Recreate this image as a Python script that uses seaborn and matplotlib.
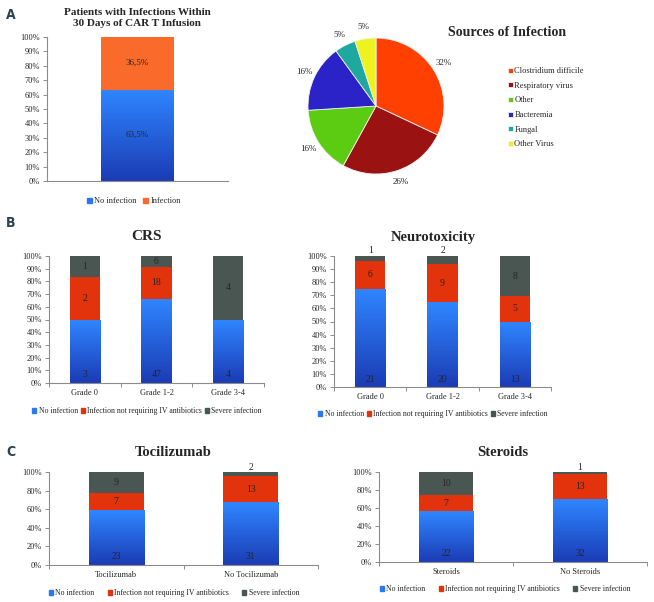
import numpy as np
import matplotlib
matplotlib.use("Agg")
import matplotlib.pyplot as plt
from matplotlib.patches import Patch
from matplotlib.colors import LinearSegmentedColormap
import seaborn as sns

sns.set_style("ticks")
plt.rcParams['font.family'] = ['Liberation Serif', 'DejaVu Serif']

# ---------------- data ----------------
a_category = ["All patients"]
a_no_infection = [63.5]
a_infection = [36.5]

pie_sources = ["Clostridium difficile", "Respiratory virus", "Other", "Bacteremia", "Fungal", "Other Virus"]
pie_values = [32, 26, 16, 16, 5, 5]

crs_groups = ["Grade 0", "Grade 1-2", "Grade 3-4"]
crs_none = [3, 47, 4]
crs_mild = [2, 18, 0]
crs_severe = [1, 6, 4]

neuro_groups = ["Grade 0", "Grade 1-2", "Grade 3-4"]
neuro_none = [21, 20, 13]
neuro_mild = [6, 9, 5]
neuro_severe = [1, 2, 8]

toci_groups = ["Tocilizumab", "No Tocilizumab"]
toci_none = [23, 31]
toci_mild = [7, 13]
toci_severe = [9, 2]

ster_groups = ["Steroids", "No Steroids"]
ster_none = [22, 32]
ster_mild = [7, 13]
ster_severe = [10, 1]

legend_labels = ["No infection", "Infection not requiring IV antibiotics", "Severe infection"]

# ---------------- style ----------------
BLUE = "#2a78f0"
BLUE_CMAP = LinearSegmentedColormap.from_list("bl", ["#1b3cb5", "#2f86ff"])
RED = "#e3330c"
ORANGE = "#fa6a2a"
GRAY = "#4a5652"
SPINE = "#8c8c8c"
pie_colors = ["#ff4000", "#9a1212", "#5ccc12", "#2b22c8", "#1fa8a0", "#eef21e"]

W, H = 654, 602
fig = plt.figure(figsize=(W / 100, H / 100), dpi=100)


def ax_px(l, t, r, b):
    return fig.add_axes([l / W, 1 - b / H, (r - l) / W, (b - t) / H])


def style_axes(ax, n, step):
    for s in ["top", "right"]:
        ax.spines[s].set_visible(False)
    for s in ["left", "bottom"]:
        ax.spines[s].set_color(SPINE)
        ax.spines[s].set_linewidth(0.8)
    ax.set_xlim(-0.5, n - 0.5)
    ax.set_ylim(0, 100)
    ticks = np.arange(0, 101, step)
    ax.set_yticks(ticks)
    ax.set_yticklabels([f"{t}%" for t in ticks], fontsize=6)
    ax.tick_params(axis="y", length=3, width=0.7, color=SPINE, pad=2)
    ax.tick_params(axis="x", length=0, pad=4, labelsize=6)
    ax.set_xticks(np.arange(n), minor=False)
    ax.set_xticks(np.arange(-0.5, n, 1.0), minor=True)
    ax.tick_params(axis="x", which="minor", length=3, width=0.7, color=SPINE)
    ax.set_xlabel("")
    ax.set_ylabel("")


def gradient_fill(ax, patches):
    grad = np.linspace(0, 1, 64).reshape(-1, 1)
    for p in patches:
        bb = p.get_bbox()
        if bb.height <= 0:
            continue
        im = ax.imshow(grad, extent=[bb.x0, bb.x1, bb.y0, bb.y1], origin="lower",
                       aspect="auto", cmap=BLUE_CMAP, zorder=p.get_zorder() + 0.1)
        im.set_clip_path(p)


def stacked(ax, groups, none, mild, severe, width, step, blue_label_y):
    none = np.array(none, float)
    mild = np.array(mild, float)
    severe = np.array(severe, float)
    tot = none + mild + severe
    p_none = none / tot * 100
    p_mild = mild / tot * 100
    p_sev = severe / tot * 100
    sns.barplot(x=groups, y=p_none + p_mild + p_sev, color=GRAY, width=width,
                saturation=1, linewidth=0, ax=ax)
    sns.barplot(x=groups, y=p_none + p_mild, color=RED, width=width,
                saturation=1, linewidth=0, ax=ax)
    n0 = len(ax.patches)
    sns.barplot(x=groups, y=p_none, color=BLUE, width=width,
                saturation=1, linewidth=0, ax=ax)
    gradient_fill(ax, ax.patches[n0:])
    n = len(groups)
    style_axes(ax, n, step)
    for i in range(n):
        ax.text(i, blue_label_y, f"{int(none[i])}", ha="center", va="center", fontsize=7, zorder=10)
        if mild[i] > 0:
            ax.text(i, p_none[i] + p_mild[i] / 2, f"{int(mild[i])}", ha="center", va="center",
                    fontsize=7, zorder=10)
        if severe[i] > 0:
            if p_sev[i] < 7:
                ax.text(i, 100.5, f"{int(severe[i])}", ha="center", va="bottom", fontsize=7, zorder=10)
            else:
                ax.text(i, p_none[i] + p_mild[i] + p_sev[i] / 2, f"{int(severe[i])}",
                        ha="center", va="center", fontsize=7, zorder=10)


def legend3(x, y, colspacing):
    handles = [Patch(color=BLUE), Patch(color=RED), Patch(color=GRAY)]
    fig.legend(handles, legend_labels, loc="center", bbox_to_anchor=(x / W, 1 - y / H),
               ncol=3, frameon=False, fontsize=5.6, handlelength=0.55, handleheight=0.55,
               handletextpad=0.3, columnspacing=colspacing, borderpad=0)


def panel_letter(x, y, s):
    fig.text(x / W, 1 - y / H, s, fontsize=10, fontweight="bold", color="#2c4150",
             family=["DejaVu Sans"], stretch="condensed", ha="left", va="center")


# ---------------- Panel A: bar ----------------
axA = ax_px(47, 37, 228, 181)
sns.barplot(x=a_category, y=np.array(a_no_infection) + np.array(a_infection), color=ORANGE,
            width=0.4, saturation=1, linewidth=0, ax=axA)
n0 = len(axA.patches)
sns.barplot(x=a_category, y=a_no_infection, color=BLUE, width=0.4, saturation=1, linewidth=0, ax=axA)
gradient_fill(axA, axA.patches[n0:])
style_axes(axA, 1, 10)
axA.set_xticks([])
axA.set_xticks([], minor=True)
fmt = lambda v: f"{v:.1f}".replace(".", ",") + "%"
axA.text(0, a_no_infection[0] / 2, fmt(a_no_infection[0]), ha="center", va="center", fontsize=6.5, zorder=10)
axA.text(0, a_no_infection[0] + a_infection[0] / 2, fmt(a_infection[0]), ha="center", va="center",
         fontsize=6.5, zorder=10)
fig.text(137 / W, 1 - 18 / H, "Patients with Infections Within\n30 Days of CAR T Infusion",
         ha="center", va="center", fontsize=8, fontweight="bold", linespacing=1.35)
fig.legend([Patch(color=BLUE), Patch(color=ORANGE)], ["No infection", "Infection"], loc="center",
           bbox_to_anchor=(134 / W, 1 - 201 / H), ncol=2, frameon=False, fontsize=6,
           handlelength=0.55, handleheight=0.55, handletextpad=0.3, columnspacing=0.8, borderpad=0)
panel_letter(6, 15, "A")

# ---------------- Panel A: pie ----------------
axP = ax_px(308, 38, 444, 174)
wedges, texts, autotexts = axP.pie(pie_values, colors=pie_colors, startangle=90, counterclock=False,
                                   autopct="%d%%", pctdistance=1.17,
                                   wedgeprops=dict(edgecolor="#f2f2f2", linewidth=0.6))
for t in autotexts:
    t.set_fontsize(6.5)
axP.set_aspect("equal")
axP.set_xlim(-1, 1)
axP.set_ylim(-1, 1)
fig.text(507 / W, 1 - 33 / H, "Sources of Infection", ha="center", va="center", fontsize=10,
         fontweight="bold")
fig.legend(wedges, pie_sources, loc="upper left", bbox_to_anchor=(504 / W, 1 - 63 / H),
           frameon=False, fontsize=6, handlelength=0.55, handleheight=0.55, handletextpad=0.2,
           labelspacing=0.8, borderpad=0)

# ---------------- Panel B ----------------
axC = ax_px(49, 256, 264, 383)
stacked(axC, crs_groups, crs_none, crs_mild, crs_severe, 0.42, 10, 7)
fig.text(146 / W, 1 - 237 / H, "CRS", ha="center", va="center", fontsize=11, fontweight="bold")
legend3(147, 411, 0.35)
panel_letter(6, 223, "B")

axN = ax_px(334, 256, 551, 387)
stacked(axN, neuro_groups, neuro_none, neuro_mild, neuro_severe, 0.42, 10, 6)
fig.text(433 / W, 1 - 237 / H, "Neurotoxicity", ha="center", va="center", fontsize=10.5, fontweight="bold")
legend3(433, 414, 0.35)

# ---------------- Panel C ----------------
axT = ax_px(49, 472, 318, 565)
stacked(axT, toci_groups, toci_none, toci_mild, toci_severe, 0.41, 20, 9)
fig.text(173 / W, 1 - 453 / H, "Tocilizumab", ha="center", va="center", fontsize=10.5, fontweight="bold")
legend3(174, 593, 1.7)
panel_letter(6, 452, "C")

axS = ax_px(379, 472, 647, 562)
stacked(axS, ster_groups, ster_none, ster_mild, ster_severe, 0.41, 20, 9)
fig.text(503 / W, 1 - 453 / H, "Steroids", ha="center", va="center", fontsize=10.5, fontweight="bold")
legend3(505, 589, 1.7)

fig.savefig("out.png", dpi=100)
